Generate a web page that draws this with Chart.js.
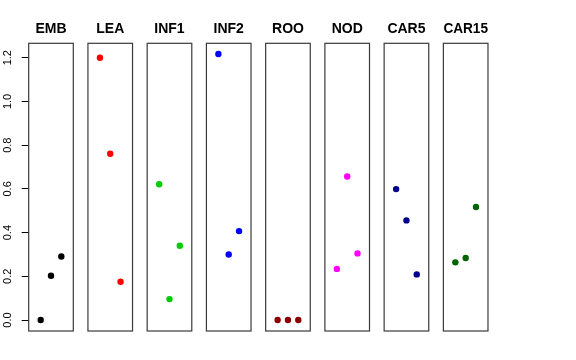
<!DOCTYPE html>
<html>
<head>
<meta charset="utf-8">
<script src="https://cdn.jsdelivr.net/npm/chart.js@4.4.1/dist/chart.umd.min.js"></script>
<style>
  html, body { margin: 0; padding: 0; background: #fff; }
  #wrap { position: relative; width: 576px; height: 360px; overflow: hidden; }
  #wrap canvas { position: absolute; top: 0; }
</style>
</head>
<body>
<div id="wrap"></div>
<script>
// Panel titles and point colours
const tissues = ["EMB", "LEA", "INF1", "INF2", "ROO", "NOD", "CAR5", "CAR15"];
const colors = ["#000000", "#FF0000", "#00CD00", "#0000FF", "#8B0000", "#FF00FF", "#00008B", "#006400"];

// Three replicate values per tissue
const emb = [0.0, 0.203, 0.291];
const lea = [1.2, 0.761, 0.175];
const inf1 = [0.621, 0.096, 0.340];
const inf2 = [1.217, 0.300, 0.407];
const roo = [0.0, 0.0, 0.0];
const nod = [0.234, 0.657, 0.305];
const car5 = [0.599, 0.456, 0.209];
const car15 = [0.264, 0.284, 0.517];
const values = [emb, lea, inf1, inf2, roo, nod, car5, car15];

const replicates = [1, 2, 3];
const yTicks = [0, 0.2, 0.4, 0.6, 0.8, 1.0, 1.2];

// Layout of the panels (pixels)
const firstLeft = 28.7;
const panelStep = 59.24;
const panelWidth = 44.6;
const canvasW = 102;
const canvasH = 360;

const FONT = "'Liberation Sans', Arial, Helvetica, sans-serif";

// Draw the box round each panel
const boxPlugin = {
  id: "box",
  afterDraw(chart) {
    const a = chart.chartArea;
    const ctx = chart.ctx;
    ctx.save();
    ctx.strokeStyle = "#3a3a3a";
    ctx.lineWidth = 1.2;
    ctx.strokeRect(a.left, a.top, a.right - a.left, a.bottom - a.top);
    ctx.restore();
  },
};

const wrap = document.getElementById("wrap");

tissues.forEach(function (name, i) {
  const panelLeft = firstLeft + i * panelStep;
  const center = panelLeft + panelWidth / 2;
  const canvasLeft = Math.round(center - canvasW / 2);
  // only the first panel carries the y axis; a blank twin on the right keeps the title centred
  const axisW = i === 0 ? firstLeft : 0;
  const padLeft = panelLeft - canvasLeft - axisW;
  const padRight = canvasLeft + canvasW - (panelLeft + panelWidth) - axisW;

  const canvas = document.createElement("canvas");
  canvas.width = canvasW;
  canvas.height = canvasH;
  canvas.style.left = canvasLeft + "px";
  wrap.appendChild(canvas);

  const points = replicates.map((x, k) => ({ x: x, y: values[i][k] }));

  new Chart(canvas.getContext("2d"), {
    type: "scatter",
    data: {
      datasets: [
        {
          data: points,
          backgroundColor: colors[i],
          borderColor: colors[i],
          pointRadius: 3.2,
          pointBorderWidth: 0,
        },
      ],
    },
    options: {
      responsive: false,
      animation: false,
      layout: { padding: { left: padLeft, right: padRight, top: 0, bottom: 29 } },
      plugins: {
        legend: { display: false },
        tooltip: { enabled: false },
        title: {
          display: true,
          text: name,
          color: "#000",
          font: { family: FONT, size: 14, weight: "bold" },
          padding: { top: 21, bottom: 5.5 },
        },
      },
      scales: {
        x: { display: false, min: -0.16, max: 4.16 },
        y: {
          display: i === 0,
          min: -0.05,
          max: 1.266,
          afterBuildTicks: function (scale) {
            scale.ticks = yTicks.map((v) => ({ value: v }));
          },
          afterFit: function (scale) {
            scale.width = axisW;
          },
          border: { display: false },
          grid: {
            drawOnChartArea: false,
            drawTicks: true,
            tickLength: 7,
            color: "#000",
          },
          ticks: {
            color: "#000",
            font: { family: FONT, size: 11 },
            minRotation: 90,
            maxRotation: 90,
            crossAlign: "center",
            padding: 6,
            callback: function (v) {
              return Number(v).toFixed(1);
            },
          },
        },
        yRight: {
          display: i === 0,
          position: "right",
          min: -0.05,
          max: 1.266,
          afterFit: function (scale) {
            scale.width = axisW;
          },
          border: { display: false },
          grid: { display: false },
          ticks: { display: false },
        },
      },
    },
    plugins: [boxPlugin],
  });
});
</script>
</body>
</html>
